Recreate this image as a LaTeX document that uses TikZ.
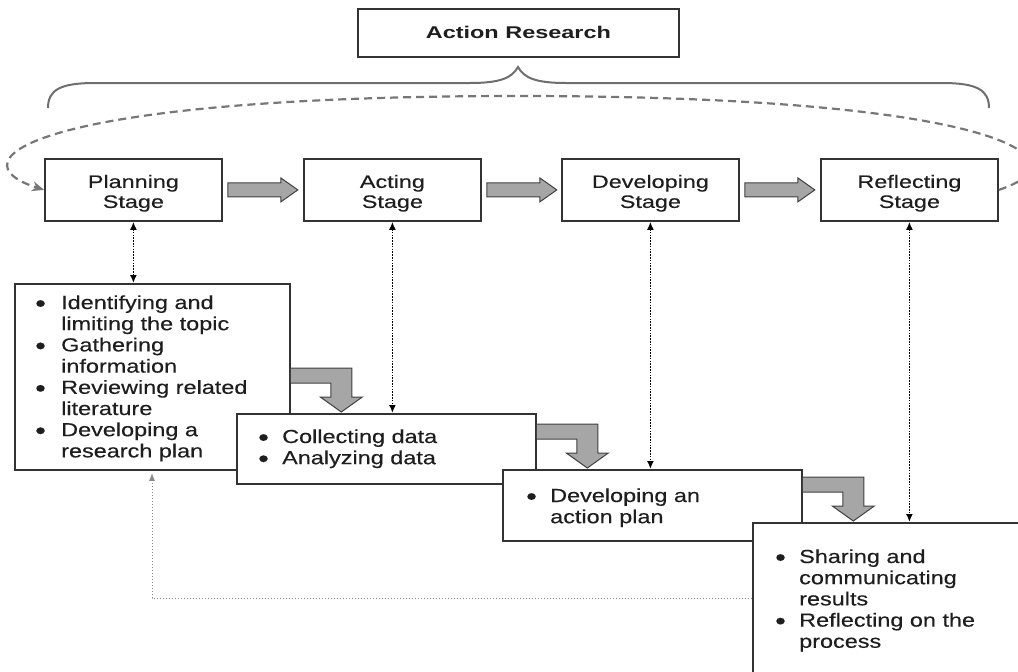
\documentclass[tikz,border=0pt]{standalone}
\usepackage{fontspec}
\setmainfont{Liberation Sans}
\newfontfamily\bulfont{Liberation Sans}[FakeStretch=1.24,FakeBold=0.3]
\newfontfamily\stgfont{Liberation Sans}[FakeStretch=1.3,FakeBold=0.3]
\newfontfamily\ttlfont{Liberation Sans}[FakeStretch=1.38]
\usetikzlibrary{arrows.meta,calc}
\definecolor{ink}{HTML}{1E1E1E}
\definecolor{boxline}{HTML}{333333}
\definecolor{arrfill}{HTML}{A6A6A6}
\definecolor{arrline}{HTML}{404040}
\definecolor{bracegray}{HTML}{6E6E6E}
\definecolor{loopgray}{HTML}{777777}
\definecolor{retgray}{HTML}{8A8A8A}
\newcommand\bul[1]{\makebox[#1][l]{\raisebox{-2.7pt}[0pt][0pt]{\scalebox{1.3}{\textbullet}}}}
\tikzset{
  box/.style={draw=boxline, line width=1.8pt, fill=white, inner sep=0pt, anchor=north west},
  stagebox/.style={box, minimum width=177pt, minimum height=62pt,
    font=\stgfont\fontsize{18}{20}\selectfont, text=ink},
  bultext/.style={anchor=base west, inner sep=0pt, text=ink,
    font=\bulfont\fontsize{18.9}{21.2}\selectfont},
  blockarr/.style={draw=arrline, line width=1pt, fill=arrfill, line join=miter},
  vlink/.style={draw=black, dash pattern=on 1.6pt off 1.2pt, line width=1.7pt,
    {Latex[length=8pt,width=7pt]}-{Latex[length=8pt,width=7pt]}},
  retlink/.style={draw=retgray, dotted, line width=1pt, -{Latex[length=8pt,width=6pt]}},
  bracecurve/.style={draw=bracegray, line width=2pt},
  cyclepath/.style={draw=loopgray, line width=2.2pt, dash pattern=on 8pt off 5pt,
    -{Stealth[length=12pt,width=10pt]}},
  harrow/.pic={\draw[blockarr] (0,-7) -- (53,-7) -- (53,-12) -- (70,0) -- (53,12) -- (53,7) -- (0,7) -- cycle;},
  barrow/.pic={\fill[arrfill] (0,0) -- (61,0) -- (61,29) -- (71.5,29) -- (50.5,44) -- (29.5,29) -- (40,29) -- (40,15) -- (0,15) -- cycle;
    \draw[blockarr, fill=none] (0,0) -- (61,0) -- (61,29) -- (71.5,29) -- (50.5,44) -- (29.5,29) -- (40,29) -- (40,15) -- (0,15);}
}
\begin{document}
\begin{tikzpicture}[x=1pt,y=-1pt]
\useasboundingbox (0,0) rectangle (1018,672);
\clip (0,0) rectangle (1018,672);

% title
\node[box, minimum width=321pt, minimum height=48pt, text height=14pt, text depth=2pt,
  font=\ttlfont\bfseries\fontsize{17}{20}\selectfont, text=ink] (title) at (357,8) {Action Research};

% brace
\draw[bracecurve] (48,108) .. controls (48,90) and (60,83) .. (95,83) -- (470,83)
  .. controls (500,83) and (512,78) .. (518,67)
  .. controls (524,78) and (536,83) .. (566,83) -- (942,83)
  .. controls (977,83) and (989,90) .. (989,108);

% stages
\node[stagebox] (plan) at (44,158) {\raisebox{0pt}[18pt][22pt]{\begin{tabular}[t]{@{}c@{}}Planning\\Stage\end{tabular}}};
\node[stagebox] (act) at (303,158) {\raisebox{0pt}[18pt][22pt]{\begin{tabular}[t]{@{}c@{}}Acting\\Stage\end{tabular}}};
\node[stagebox] (dev) at (561,158) {\raisebox{0pt}[18pt][22pt]{\begin{tabular}[t]{@{}c@{}}Developing\\Stage\end{tabular}}};
\node[stagebox] (refl) at (820,158) {\raisebox{0pt}[18pt][22pt]{\begin{tabular}[t]{@{}c@{}}Reflecting\\Stage\end{tabular}}};

% cycle dashed arrow
\draw[cyclepath] (refl.east) .. controls (1090,160) and (1000,96) .. (518,96)
  .. controls (36,96) and (-50,160) .. (plan.west);

% horizontal block arrows
\pic at ($(plan.east)+(5,0)$) {harrow};
\pic at ($(act.east)+(5,0)$) {harrow};
\pic at ($(dev.east)+(5,0)$) {harrow};

% activity boxes
\node[box, minimum width=275pt, minimum height=186pt] (b1) at (14,283) {};
\pic at ($(b1.north east)+(0,85)$) {barrow};
\node[box, minimum width=299pt, minimum height=70pt] (b2) at (236,413) {};
\pic at ($(b2.north east)+(0,11)$) {barrow};
\node[box, minimum width=299pt, minimum height=71pt] (b3) at (502,469) {};
\pic at ($(b3.north east)+(0,8)$) {barrow};
\node[box, minimum width=300pt, minimum height=200pt] (b4) at (752,522) {};

% texts
\node[bultext] (t1) at (35,309) {\begin{tabular}[t]{@{}l@{}}
\bul{26pt}Identifying and\\ \hspace*{26pt}limiting the topic\\
\bul{26pt}Gathering\\ \hspace*{26pt}information\\
\bul{26pt}Reviewing related\\ \hspace*{26pt}literature\\
\bul{26pt}Developing a\\ \hspace*{26pt}research plan\end{tabular}};
\node[bultext] (t2) at (258,443) {\begin{tabular}[t]{@{}l@{}}
\bul{24pt}Collecting data\\ \bul{24pt}Analyzing data\end{tabular}};
\node[bultext] (t3) at (526,502) {\begin{tabular}[t]{@{}l@{}}
\bul{24pt}Developing an\\ \hspace*{24pt}action plan\end{tabular}};
\node[bultext] (t4) at (775,563) {\begin{tabular}[t]{@{}l@{}}
\bul{24pt}Sharing and\\ \hspace*{24pt}communicating\\ \hspace*{24pt}results\\
\bul{24pt}Reflecting on the\\ \hspace*{24pt}process\end{tabular}};

% dotted links
\draw[vlink] (plan.south) -- (plan.south |- b1.north);
\draw[vlink] (act.south) -- (act.south |- b2.north);
\draw[vlink] (dev.south) -- (dev.south |- b3.north);
\draw[vlink] (refl.south) -- (refl.south |- b4.north);

% return link
\coordinate (ret) at (152,598);
\draw[retlink, shorten >=2pt] (ret -| b4.west) -| (b1.south -| ret);
\end{tikzpicture}
\end{document}
